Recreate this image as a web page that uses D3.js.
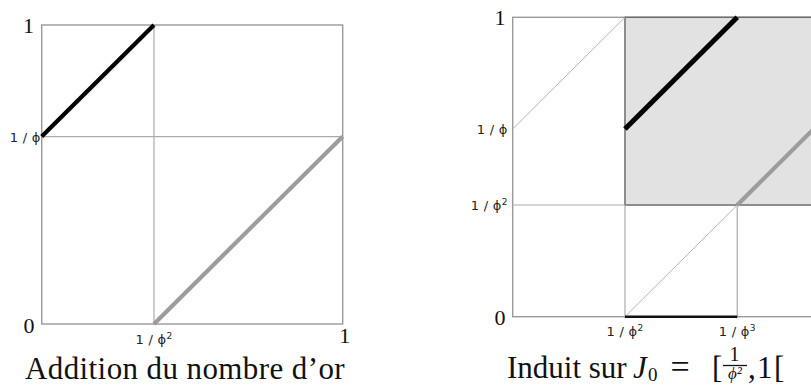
<!DOCTYPE html>
<html>
<head>
<meta charset="utf-8">
<script src="https://cdn.jsdelivr.net/npm/d3@7"></script>
<style>
  html, body { margin: 0; padding: 0; background: #fff; overflow: hidden; }
  svg { display: block; }
  .frame { fill: none; stroke: #9a9a9a; stroke-width: 1.4; }
  .guide { stroke: #ababab; stroke-width: 1.2; fill: none; }
  .thin { stroke: #b5b5b5; stroke-width: 1; fill: none; }
  .induced { fill: #e2e2e2; stroke: #6e6e6e; stroke-width: 1.5; }
  .branch-a { stroke: #000; stroke-width: 4.2; stroke-linecap: butt; fill: none; }
  .branch-b { stroke: #9c9c9c; stroke-width: 4.2; stroke-linecap: butt; fill: none; }
  .base-seg { stroke: #111; stroke-width: 2.6; fill: none; }
  .tick-sans { font-family: "DejaVu Sans", sans-serif; font-size: 13px; fill: #222; letter-spacing: 0.3px; }
  .tick-serif { font-family: "Liberation Serif", "DejaVu Serif", serif; font-size: 22px; fill: #111; }
  .title { font-family: "Liberation Serif", "DejaVu Serif", serif; font-size: 31px; fill: #111; }
</style>
</head>
<body>
<svg id="chart" width="811" height="385"></svg>
<script>
// Break points of the golden-ratio rotation on [0,1[
const invPhi2 = 0.373;    // 1/φ²
const invPhi = 0.627;     // 1/φ = 1 − 1/φ²
const twoInvPhi2 = 0.746; // right end of the first piece of the induced map

// Left panel: the rotation x ↦ x + 1/φ (mod 1), two affine branches
const leftBranchA = [[0, invPhi], [invPhi2, 1]];
const leftBranchB = [[invPhi2, 0], [1, invPhi]];
const leftXTicks = [{ v: invPhi2, t: "1 / ϕ", sup: "2" }];
const leftYTicks = [{ v: invPhi, t: "1 / ϕ", sup: "" }];

// Right panel: induced map on J0 = [1/φ², 1[
const induceBox = [invPhi2, invPhi2, 1, 1];            // x0, y0, x1, y1
const rightBranchA = [[invPhi2, invPhi], [twoInvPhi2, 1]];
const rightBranchB = [[twoInvPhi2, invPhi2], [1, invPhi]];
const rightThin = [
  [[0, invPhi], [invPhi2, 1]],
  [[invPhi2, 0], [twoInvPhi2, invPhi2]]
];
const rightGuides = [
  [[invPhi2, 0], [invPhi2, invPhi2]],
  [[twoInvPhi2, 0], [twoInvPhi2, invPhi2]],
  [[0, invPhi2], [invPhi2, invPhi2]]
];
const rightBaseSeg = [[invPhi2, 0], [twoInvPhi2, 0]];
const rightXTicks = [{ v: invPhi2, t: "1 / ϕ", sup: "2" }, { v: twoInvPhi2, t: "1 / ϕ", sup: "3" }];
const rightYTicks = [{ v: invPhi, t: "1 / ϕ", sup: "" }, { v: invPhi2, t: "1 / ϕ", sup: "2" }];

const svg = d3.select("#chart");

function panel(left, top, w, h) {
  const x = d3.scaleLinear().domain([0, 1]).range([left, left + w]);
  const y = d3.scaleLinear().domain([0, 1]).range([top + h, top]);
  const line = d3.line().x(d => x(d[0])).y(d => y(d[1]));
  return { x, y, line, g: svg.append("g") };
}

// Small sans label "1 / ϕ" with an optional raised exponent
function tickLabel(sel) {
  sel.append("tspan").text(d => d.t);
  sel.filter(d => d.sup).append("tspan")
    .attr("dy", -5).style("font-size", "9px").text(d => d.sup);
}

// ---------- Left panel ----------
const L = panel(41.7, 25, 301, 299);
L.g.append("line").attr("class", "guide")
  .attr("x1", L.x(invPhi2)).attr("x2", L.x(invPhi2)).attr("y1", L.y(0)).attr("y2", L.y(1));
L.g.append("line").attr("class", "guide")
  .attr("x1", L.x(0)).attr("x2", L.x(1)).attr("y1", L.y(invPhi)).attr("y2", L.y(invPhi));
L.g.append("rect").attr("class", "frame")
  .attr("x", L.x(0)).attr("y", L.y(1))
  .attr("width", L.x(1) - L.x(0)).attr("height", L.y(0) - L.y(1));
L.g.append("path").attr("class", "branch-b").attr("d", L.line(leftBranchB));
L.g.append("path").attr("class", "branch-a").attr("d", L.line(leftBranchA));

L.g.selectAll(".xt").data(leftXTicks).join("text").attr("class", "tick-sans")
  .attr("x", d => L.x(d.v)).attr("y", L.y(0) + 20).attr("text-anchor", "middle").call(tickLabel);
L.g.selectAll(".yt").data(leftYTicks).join("text").attr("class", "tick-sans")
  .attr("x", L.x(0) - 1).attr("y", d => L.y(d.v) + 5).attr("text-anchor", "end").call(tickLabel);
L.g.append("text").attr("class", "tick-serif").attr("x", 28.5).attr("y", L.y(1) + 8)
  .attr("text-anchor", "middle").text("1");
L.g.append("text").attr("class", "tick-serif").attr("x", 29).attr("y", L.y(0) + 9)
  .attr("text-anchor", "middle").text("0");
L.g.append("text").attr("class", "tick-serif").attr("x", L.x(1) + 2).attr("y", L.y(0) + 19)
  .attr("text-anchor", "middle").text("1");
L.g.append("text").attr("class", "title").attr("x", 25).attr("y", 379)
  .style("letter-spacing", "0.4px").text("Addition du nombre d’or");

// ---------- Right panel ----------
const R = panel(512.7, 17.3, 301, 299.4);
R.g.append("rect").attr("class", "frame")
  .attr("x", R.x(0)).attr("y", R.y(1))
  .attr("width", R.x(1) - R.x(0)).attr("height", R.y(0) - R.y(1));
R.g.append("rect").attr("class", "induced")
  .attr("x", R.x(induceBox[0])).attr("y", R.y(induceBox[3]))
  .attr("width", R.x(induceBox[2]) - R.x(induceBox[0]))
  .attr("height", R.y(induceBox[1]) - R.y(induceBox[3]));
R.g.selectAll(".gd").data(rightGuides).join("path").attr("class", "guide").attr("d", R.line);
R.g.selectAll(".th").data(rightThin).join("path").attr("class", "thin").attr("d", R.line);
R.g.append("path").attr("class", "base-seg").attr("d", R.line(rightBaseSeg));
R.g.append("path").attr("class", "branch-b").attr("d", R.line(rightBranchB));
R.g.append("path").attr("class", "branch-a").style("stroke-width", 5).attr("d", R.line(rightBranchA));

R.g.selectAll(".xt").data(rightXTicks).join("text").attr("class", "tick-sans")
  .attr("x", d => R.x(d.v)).attr("y", R.y(0) + 19).attr("text-anchor", "middle").call(tickLabel);
R.g.selectAll(".yt").data(rightYTicks).join("text").attr("class", "tick-sans")
  .attr("x", R.x(0) - 5).attr("y", d => R.y(d.v) + 5).attr("text-anchor", "end").call(tickLabel);
R.g.append("text").attr("class", "tick-serif").attr("x", 500).attr("y", R.y(1) + 8)
  .attr("text-anchor", "middle").text("1");
R.g.append("text").attr("class", "tick-serif").attr("x", 500).attr("y", R.y(0) + 8)
  .attr("text-anchor", "middle").text("0");

// Title with inline math: Induit sur J0 = [1/φ², 1[
const T = R.g.append("g");
T.append("text").attr("class", "title").attr("x", 507).attr("y", 378).text("Induit sur");
T.append("text").attr("class", "title").attr("x", 633).attr("y", 378)
  .style("font-style", "italic").text("J");
T.append("text").attr("class", "title").attr("x", 648).attr("y", 381)
  .style("font-size", "19px").text("0");
T.append("text").attr("class", "title").attr("x", 680).attr("y", 378)
  .attr("text-anchor", "middle").style("font-size", "34px").text("=");
T.append("text").attr("class", "title").attr("x", 712).attr("y", 378).text("[");
T.append("text").attr("class", "title").attr("x", 734.5).attr("y", 361)
  .attr("text-anchor", "middle").style("font-size", "20px").text("1");
T.append("line").attr("x1", 723).attr("x2", 747).attr("y1", 365.5).attr("y2", 365.5)
  .attr("stroke", "#111").attr("stroke-width", 1.3);
T.append("text").attr("class", "title").attr("x", 735).attr("y", 378.5)
  .attr("text-anchor", "middle").style("font-size", "17px").style("font-style", "italic").text("ϕ²");
T.append("text").attr("class", "title").attr("x", 748).attr("y", 378).text(",");
T.append("text").attr("class", "title").attr("x", 757).attr("y", 378).text("1");
T.append("text").attr("class", "title").attr("x", 774).attr("y", 378).text("[");
</script>
</body>
</html>
